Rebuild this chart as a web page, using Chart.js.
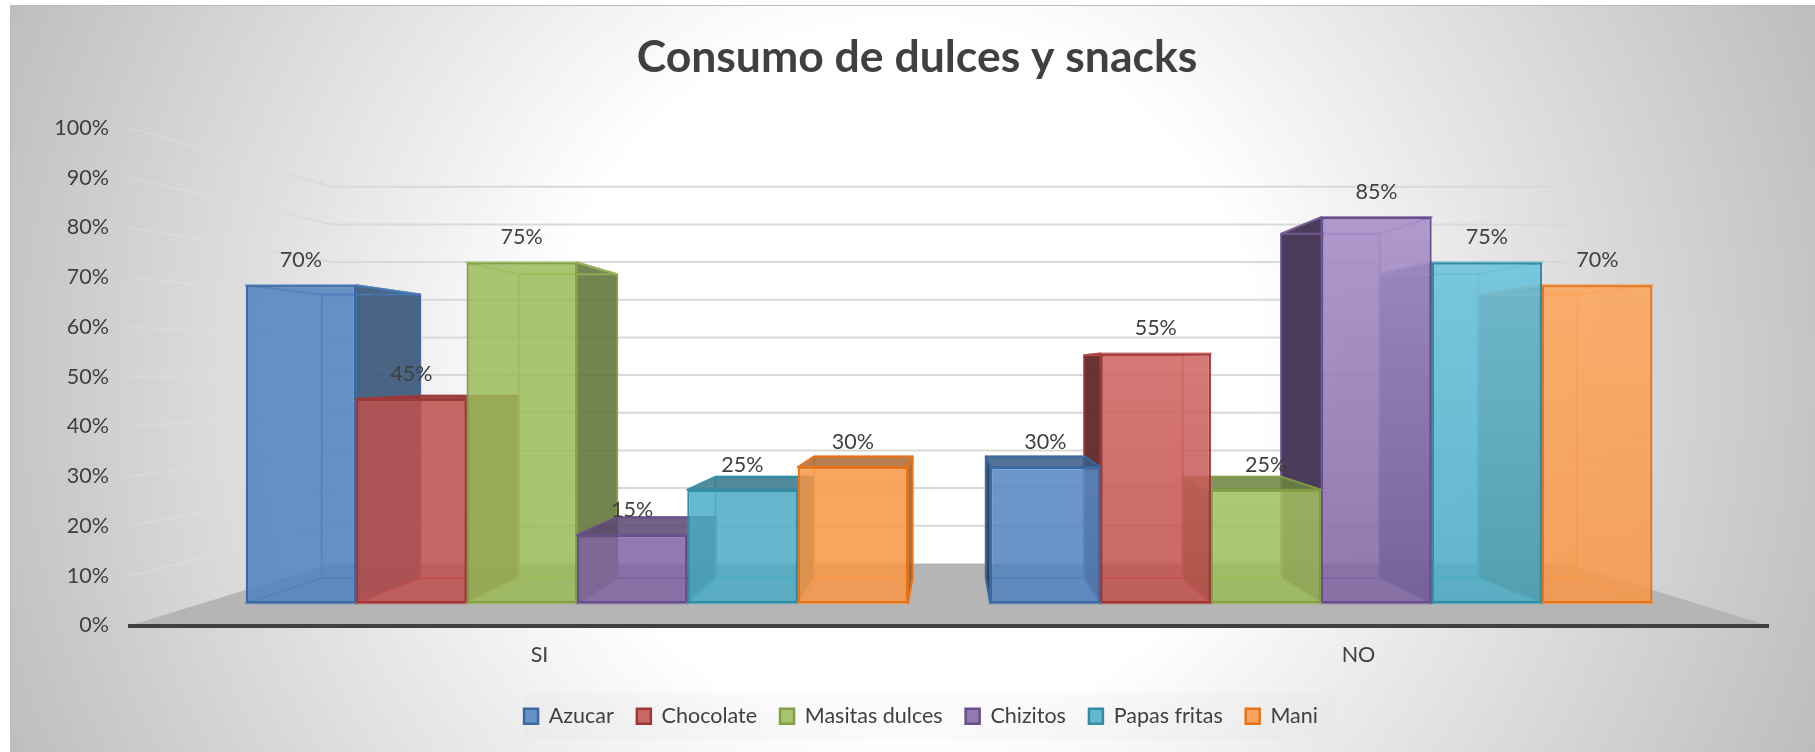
<!DOCTYPE html>
<html>
<head>
<meta charset="utf-8">
<title>Consumo de dulces y snacks</title>
<script src="https://cdn.jsdelivr.net/npm/chart.js@4"></script>
<style>
  html, body { margin: 0; padding: 0; background: #fff; overflow: hidden; }
  #panel {
    position: absolute; left: 10px; top: 5px; width: 1805px; height: 747px;
    background: radial-gradient(circle 980px at 895px 371px, #fff 36%, #bdbdbd 100%);
    border-left: 1px solid #bbb; border-top: 1px solid #bbb; box-sizing: border-box;
  }
  #wrap { position: absolute; left: 0; top: 0; width: 1815px; height: 752px; }
</style>
</head>
<body>
<div id="panel"></div>
<div id="wrap"><canvas id="snacksChart" width="1815" height="752"></canvas></div>
<script>
const categories = ['SI', 'NO'];
const seriesNames = ['Azucar', 'Chocolate', 'Masitas dulces', 'Chizitos', 'Papas fritas', 'Mani'];
const azucar = [70, 30];
const chocolate = [45, 55];
const masitas = [75, 25];
const chizitos = [15, 85];
const papas = [25, 75];
const mani = [30, 70];
const seriesValues = [azucar, chocolate, masitas, chizitos, papas, mani];

const baseColors = [[79, 129, 189], [192, 80, 77], [155, 187, 89], [128, 100, 162], [75, 172, 198], [247, 150, 70]];
const lightColors = [[112, 153, 208], [224, 124, 122], [181, 207, 118], [177, 152, 207], [120, 203, 226], [253, 174, 107]];
const lineColors = [[60, 105, 162], [160, 55, 55], [130, 160, 70], [105, 78, 140], [50, 140, 165], [232, 115, 25]];

// fake perspective: every depth plane is the floor-front plane scaled about one vanishing point
const vanish = { x: 950, y: 370 };
const barFront = { x: 0.909, y: 0.913 };
const barBack = { x: 0.811, y: 0.814 };
const wallBack = { x: 0.754, y: 0.757 };

function rgba(c, a, k) {
  k = k === undefined ? 1 : k;
  return 'rgba(' + Math.round(c[0] * k) + ',' + Math.round(c[1] * k) + ',' + Math.round(c[2] * k) + ',' + a + ')';
}

function project(x, y, s) {
  return [vanish.x + s.x * (x - vanish.x), vanish.y + s.y * (y - vanish.y)];
}

function poly(ctx, pts) {
  ctx.beginPath();
  pts.forEach(function (p, i) { i ? ctx.lineTo(p[0], p[1]) : ctx.moveTo(p[0], p[1]); });
  ctx.closePath();
}

// front faces of the columns; the second category gets a soft vertical shine
function frontFill(c, i) {
  if (c.dataIndex !== 1 || !c.chart.chartArea) return rgba(baseColors[i], 0.85);
  const g = c.chart.ctx.createLinearGradient(0, 130, 0, 625);
  g.addColorStop(0, rgba(lightColors[i], 0.92));
  g.addColorStop(1, rgba(baseColors[i], 0.85));
  return g;
}

function drawDepth(ctx, bar, i, cat) {
  const p = bar.getProps(['x', 'y', 'base', 'width'], true);
  const l = p.x - p.width / 2, r = p.x + p.width / 2;
  const fTL = project(l, p.y, barFront), fTR = project(r, p.y, barFront);
  const fBL = project(l, p.base, barFront), fBR = project(r, p.base, barFront);
  const bTL = project(l, p.y, barBack), bTR = project(r, p.y, barBack);
  const bBL = project(l, p.base, barBack), bBR = project(r, p.base, barBack);
  const base = baseColors[i];
  const dark = cat === 1 ? rgba(base, 0.95, 0.5) : rgba(base, 0.85, 0.6);
  const edge = rgba(base, 0.75);

  ctx.lineWidth = 2;
  ctx.lineJoin = 'round';

  // back face and floor of the box only show as thin edges
  ctx.fillStyle = rgba(base, 0.06);
  poly(ctx, [bTL, bTR, bBR, bBL]);
  ctx.fill();
  ctx.strokeStyle = edge;
  ctx.stroke();
  poly(ctx, [fBL, fBR, bBR, bBL]);
  ctx.stroke();

  // side wall facing the vanishing point
  const side = p.x < vanish.x ? [fTR, bTR, bBR, fBR] : [fTL, bTL, bBL, fBL];
  ctx.fillStyle = dark;
  poly(ctx, side);
  ctx.fill();
  ctx.strokeStyle = rgba(lineColors[i], 0.9);
  ctx.stroke();

  // lid: solid when seen from above, just an outline when seen from below
  poly(ctx, [fTL, fTR, bTR, bTL]);
  if (fTL[1] > vanish.y) {
    ctx.fillStyle = rgba(base, 0.85, 0.7);
    ctx.fill();
    ctx.strokeStyle = rgba(lineColors[i], 0.9);
  } else {
    ctx.strokeStyle = edge;
  }
  ctx.stroke();
}

const scene3d = {
  id: 'scene3d',
  // title and legend are centred a little right of the canvas middle
  afterLayout(chart) {
    chart.titleBlock.left += 13;
    chart.titleBlock.right += 13;
    chart.legend.left += 17;
    chart.legend.right += 17;
  },
  beforeDraw(chart) {
    const ctx = chart.ctx, area = chart.chartArea, y = chart.scales.y;
    ctx.save();
    // legend band
    const boxes = chart.legend.legendHitBoxes;
    const last = boxes[boxes.length - 1];
    ctx.fillStyle = 'rgba(225,225,225,0.16)';
    ctx.fillRect(boxes[0].left, boxes[0].top + boxes[0].height / 2 - 23, last.left + last.width - boxes[0].left + 17, 46);
    // floor
    ctx.fillStyle = '#b5b5b5';
    poly(ctx, [[area.left, area.bottom], [area.right, area.bottom],
      project(area.right, area.bottom, wallBack), project(area.left, area.bottom, wallBack)]);
    ctx.fill();
    // gridlines along the left wall and across the back wall
    ctx.lineWidth = 2;
    y.ticks.forEach(function (t) {
      if (t.value === 0) return;
      const py = y.getPixelForValue(t.value);
      const a = project(area.left, py, wallBack), b = project(area.right, py, wallBack);
      const fade = ctx.createLinearGradient(area.left, py, a[0], a[1]);
      fade.addColorStop(0, 'rgba(226,226,226,0.35)');
      fade.addColorStop(1, '#d9d9d9');
      ctx.strokeStyle = fade;
      ctx.beginPath();
      ctx.moveTo(area.left, py);
      ctx.lineTo(a[0], a[1]);
      ctx.stroke();
      ctx.strokeStyle = '#d9d9d9';
      ctx.beginPath();
      ctx.moveTo(a[0], a[1]);
      ctx.lineTo(b[0], b[1]);
      ctx.stroke();
    });
    ctx.restore();
  },
  // columns are painted from the outside towards the vanishing point side, per category
  beforeDatasetsDraw(chart) {
    const ctx = chart.ctx;
    categories.forEach(function (cat, c) {
      const order = c === 0 ? [0, 1, 2, 3, 4, 5] : [5, 4, 3, 2, 1, 0];
      order.forEach(function (i) {
        const bar = chart.getDatasetMeta(i).data[c];
        ctx.save();
        drawDepth(ctx, bar, i, c);
        ctx.translate(vanish.x, vanish.y);
        ctx.scale(barFront.x, barFront.y);
        ctx.translate(-vanish.x, -vanish.y);
        bar.draw(ctx);
        ctx.restore();
      });
    });
    // value labels sit above the front face
    ctx.save();
    ctx.font = '21.5px Lato';
    ctx.fillStyle = '#404040';
    ctx.textAlign = 'center';
    ctx.textBaseline = 'middle';
    seriesValues.forEach(function (vals, i) {
      chart.getDatasetMeta(i).data.forEach(function (bar, c) {
        const top = project(bar.x, bar.y, barFront);
        ctx.fillText(vals[c] + '%', top[0], top[1] - 25);
      });
    });
    ctx.restore();
    return false;
  }
};

new Chart(document.getElementById('snacksChart').getContext('2d'), {
  type: 'bar',
  data: {
    labels: categories,
    datasets: seriesNames.map(function (name, i) {
      return {
        label: name,
        data: seriesValues[i],
        backgroundColor: function (c) { return frontFill(c, i); },
        borderColor: rgba(lineColors[i], 1),
        borderWidth: 2.5,
        borderSkipped: false,
        barPercentage: 1,
        categoryPercentage: 0.8896
      };
    })
  },
  plugins: [scene3d],
  options: {
    responsive: false,
    animation: false,
    layout: { padding: { left: 40, right: 47, top: 0, bottom: 15 } },
    plugins: {
      title: {
        display: true,
        text: 'Consumo de dulces y snacks',
        color: '#404040',
        font: { family: 'Lato', size: 44.5, weight: 'bold', lineHeight: 1.2 },
        padding: { top: 31, bottom: 43.5 }
      },
      legend: {
        position: 'bottom',
        labels: {
          color: '#404040',
          font: { family: 'Lato', size: 21.5 },
          boxWidth: 14,
          boxHeight: 15,
          padding: 23
        }
      },
      tooltip: { enabled: false }
    },
    scales: {
      x: {
        grid: { display: false },
        border: { display: true, color: '#404040', width: 4 },
        ticks: { color: '#404040', font: { family: 'Lato', size: 21.5 }, padding: 9 },
        afterFit: function (s) { s.height = 57; }
      },
      y: {
        min: 0,
        max: 100,
        grid: { display: false },
        border: { display: false },
        ticks: {
          stepSize: 10,
          color: '#404040',
          font: { family: 'Lato', size: 21.5 },
          padding: 13,
          callback: function (v) { return v + '%'; }
        },
        afterFit: function (s) { s.width = 90; }
      }
    }
  }
});
</script>
</body>
</html>
